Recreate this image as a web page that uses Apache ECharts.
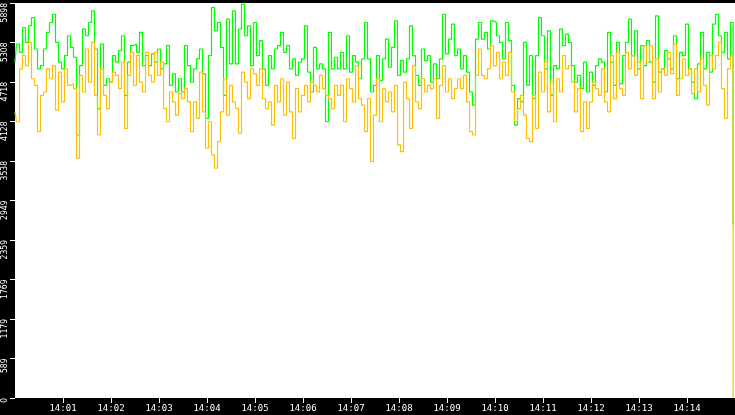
<!DOCTYPE html>
<html>
<head>
<meta charset="utf-8">
<title>Rate trend</title>
<script src="https://cdn.jsdelivr.net/npm/echarts@6/dist/echarts.min.js"></script>
<style>
  html, body { margin: 0; padding: 0; background: #000; }
  #chart { width: 735px; height: 415px; }
</style>
</head>
<body>
<div id="chart"></div>
<script type="text/javascript">
// one sample every 3.75 s from 14:00:00, last sample at 14:14:59
var stepSec = 3.75;
var endSec = 899;

var minuteTicks = [60, 120, 180, 240, 300, 360, 420, 480, 540, 600, 660, 720, 780, 840];
var minuteLabels = ['14:01', '14:02', '14:03', '14:04', '14:05', '14:06', '14:07',
                    '14:08', '14:09', '14:10', '14:11', '14:12', '14:13', '14:14'];

var greenVals = [
  5014,5285,5162,5532,5310,5557,5681,5211,4915,4964,5211,5458,5607,5730,5310,5014,4915,5113,5409,5236,
  5088,3927,4964,5508,5409,5607,5780,5211,4322,5285,4668,4767,4717,5113,5014,5187,5409,4520,5014,5261,
  5285,5162,5458,4964,5113,4964,5137,5014,5211,4915,4989,5261,4668,4841,4569,4767,4569,5261,4964,4717,
  4915,5063,5211,4841,4174,5113,5829,5483,5607,5236,4520,5656,4989,5780,4989,5508,5878,5409,5557,4964,
  5607,5113,5335,4915,4668,5113,4915,5211,5261,5458,5162,5261,4915,5063,4816,5014,5063,5557,4866,4569,
  5236,4915,4989,4915,4125,5458,4915,5088,4915,5162,4915,5409,4866,5113,5014,4767,5063,5607,5063,4569,
  4668,5113,4742,5063,5360,4940,5236,5631,4816,5038,4866,5063,5557,5113,4816,4668,5211,5038,5113,4717,
  4989,4767,5063,5730,5137,5360,5582,5113,5211,4915,5113,4866,4569,4372,5360,5607,5360,5458,5211,5631,
  5607,5409,5310,5063,5607,5335,4668,4075,4470,4421,5310,4668,5113,4470,5113,5681,5409,4915,5483,4520,
  4964,4915,5508,5261,5434,5310,4964,4717,4816,4619,5014,4569,4866,4668,4964,5063,5014,4569,5458,5014,
  4668,5310,4693,5113,5310,5656,5113,5483,4915,5261,4964,5335,5014,4717,5705,4866,4915,5187,5063,4915,
  5409,4767,5162,5113,5582,4915,4717,4470,4989,5458,4915,5162,4866,5582,5730,5409,5162,5458,5063,5607,
  2600
];

var orangeVals = [
  4273,4125,4915,5113,4964,5310,4767,4668,3976,4520,4569,4915,4767,4964,4298,4866,4421,4915,4668,4693,
  4619,3581,4816,4569,5211,4717,5310,4520,3927,4915,4520,4322,4717,4866,4816,4619,5014,4026,4816,5162,
  4668,5113,4717,4569,5162,4816,4717,5162,4816,5014,4322,4125,4569,4421,4223,4545,4470,4619,4421,3976,
  4421,4174,4866,4273,3729,4125,3631,3433,3828,4273,4767,4223,4668,4421,4322,3952,4866,4717,4470,4915,
  4841,4668,4915,4470,4322,4421,4075,4668,4421,4767,4223,4717,4273,3878,4619,4273,4520,4668,4421,4717,
  4668,4569,4816,4619,4520,4470,4322,4668,4520,4668,4125,4767,4619,4421,4964,4470,4372,3976,4470,3532,
  4223,4767,4125,4619,4421,4569,4273,4668,3779,3680,4717,4470,4026,4964,4421,4322,4767,4569,4668,4619,
  4767,4174,4668,4964,4569,4767,4470,4619,4767,4619,4816,4421,3976,3927,4816,5211,4816,4767,4915,5261,
  4964,5162,4767,5014,4816,5162,4569,4125,4322,4520,4223,3878,3828,4520,4026,4866,4569,5014,4273,4717,
  4125,4767,4569,5113,4915,4964,4717,4273,4619,3976,4421,4026,4421,4717,4619,4520,4915,4421,4273,5113,
  4470,5162,4619,4520,5162,4915,5113,4816,5014,4470,5261,5014,5261,4470,5063,4569,4915,4816,5162,4841,
  5285,4520,4767,5063,4816,4915,4545,4915,4569,5063,4668,4372,5113,4915,5113,5310,4619,4174,4915,5113,
  0
];

function toPoints(vals) {
  return vals.map(function (v, i) {
    var t = (i === vals.length - 1) ? endSec : i * stepSec;
    return [t, v];
  });
}

var chart = echarts.init(document.getElementById('chart'), null, { renderer: 'canvas' });

var option = {
  animation: false,
  backgroundColor: '#000',
  grid: { left: 15, right: 0, top: 0, bottom: 17, show: true, backgroundColor: '#fff', borderWidth: 0 },
  xAxis: {
    type: 'value', min: 0, max: 900, interval: 60,
    axisLine: { show: false },
    splitLine: { show: false },
    axisTick: { customValues: minuteTicks, length: 5, lineStyle: { color: '#fff', width: 1 } },
    axisLabel: {
      customValues: minuteTicks,
      color: '#fff', fontFamily: 'DejaVu Sans Mono', fontSize: 9, margin: 6,
      formatter: function (v) { return minuteLabels[Math.round(v / 60) - 1] || ''; }
    }
  },
  yAxis: {
    type: 'value', min: 0, max: 5898, interval: 589.8,
    axisLine: { show: false },
    splitLine: { show: false },
    axisTick: { length: 5, lineStyle: { color: '#fff', width: 1 } },
    axisLabel: {
      rotate: 90, align: 'right', verticalAlign: 'bottom', margin: 6,
      color: '#fff', fontFamily: '"Liberation Sans Narrow", "DejaVu Sans Condensed", "DejaVu Sans Mono"',
      fontSize: 8.5,
      formatter: function (v) { return String(Math.floor(v + 0.01)); }
    }
  },
  series: [
    {
      type: 'line', data: toPoints(greenVals), step: 'middle',
      showSymbol: false, lineStyle: { color: '#00ff00', width: 1.2 }
    },
    {
      type: 'line', data: toPoints(orangeVals), step: 'middle',
      showSymbol: false, lineStyle: { color: '#ffc000', width: 1.2 }
    }
  ]
};

chart.setOption(option);
</script>
</body>
</html>
